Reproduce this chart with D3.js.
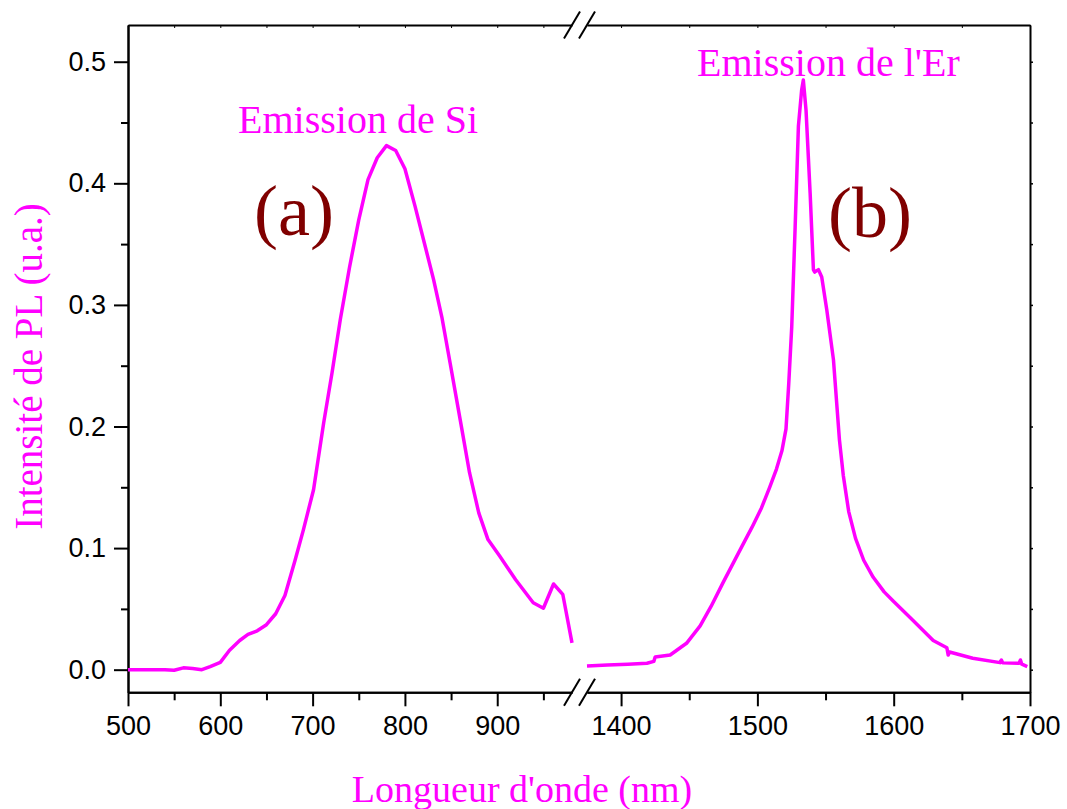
<!DOCTYPE html>
<html>
<head>
<meta charset="utf-8">
<script src="https://cdn.jsdelivr.net/npm/d3@7"></script>
<style>
  html, body { margin: 0; padding: 0; background: #fff; }
  svg { display: block; }
</style>
</head>
<body>
<svg id="chart" width="1067" height="809"></svg>
<script>
// ---- Data ----
const siWavelength = [500, 520, 540, 550, 560, 570, 580, 589, 600, 610, 621, 630, 640, 650, 660, 670, 681, 690, 701, 712, 721, 730, 740, 750, 760, 770, 780, 790, 800, 811, 822, 831, 840, 849, 860, 870, 880, 890, 903, 920, 939, 950, 961, 971, 981];
const siIntensity  = [0.000, 0.000, 0.000, -0.0005, 0.0015, 0.001, 0.000, 0.0025, 0.006, 0.016, 0.024, 0.029, 0.032, 0.037, 0.046, 0.061, 0.090, 0.115, 0.148, 0.203, 0.244, 0.288, 0.331, 0.370, 0.403, 0.421, 0.431, 0.427, 0.412, 0.381, 0.348, 0.321, 0.290, 0.252, 0.205, 0.162, 0.129, 0.107, 0.093, 0.074, 0.055, 0.0505, 0.0705, 0.062, 0.022];

const erWavelength = [1375, 1390, 1405, 1419, 1424, 1425, 1436, 1448, 1458, 1466, 1475, 1488, 1496, 1503, 1509, 1514, 1518, 1521, 1523, 1525.2, 1527.7, 1530.1, 1532.5, 1533.7, 1535.7, 1538.7, 1541.1, 1542, 1544.8, 1547.2, 1550.9, 1555.8, 1560.2, 1563, 1567, 1572, 1578, 1585, 1593, 1600, 1612, 1629, 1639, 1640, 1641, 1658, 1678, 1679, 1680, 1692, 1693, 1694, 1698];
const erIntensity  = [0.003, 0.0038, 0.0045, 0.0053, 0.0068, 0.0105, 0.0121, 0.0217, 0.036, 0.052, 0.072, 0.100, 0.117, 0.133, 0.150, 0.165, 0.180, 0.198, 0.235, 0.282, 0.364, 0.447, 0.477, 0.485, 0.460, 0.392, 0.329, 0.327, 0.329, 0.323, 0.296, 0.255, 0.189, 0.160, 0.130, 0.108, 0.090, 0.076, 0.064, 0.056, 0.043, 0.024, 0.018, 0.012, 0.0145, 0.0094, 0.0058, 0.008, 0.0056, 0.0053, 0.008, 0.0045, 0.0025];

const leftTicks = [500, 600, 700, 800, 900];
const leftMinorTicks = [550, 650, 750, 850, 950];
const rightTicks = [1400, 1500, 1600, 1700];
const rightMinorTicks = [1450, 1550, 1650];
const yTicks = [0.0, 0.1, 0.2, 0.3, 0.4, 0.5];
const yMinorTicks = [0.05, 0.15, 0.25, 0.35, 0.45];
const leftDomain = [500, 981];
const rightDomain = [1375, 1700];
const yDomain = [-0.0186, 0.5302];

const xTitle = "Longueur d'onde (nm)";
const yTitle = "Intensité de PL (u.a.)";
const labelSi = "Emission de Si";
const labelEr = "Emission de l'Er";
const panelA = "(a)";
const panelB = "(b)";

// ---- Layout ----
const plotLeft = 128, plotRight = 1030, plotTop = 25, plotBottom = 692.3;
const breakLeftEnd = 572, breakRightStart = 587;
const MAGENTA = "#ff00ff";
const DARKRED = "#800000";
const SANS = "'Liberation Sans', Arial, Helvetica, sans-serif";
const SERIF = "'Liberation Serif', 'Times New Roman', Times, serif";
const TICK_FONT = 27;

const svg = d3.select("#chart");

const xL = d3.scaleLinear().domain(leftDomain).range([plotLeft, breakLeftEnd]);
const xR = d3.scaleLinear().domain(rightDomain).range([breakRightStart, plotRight]);
const y = d3.scaleLinear().domain(yDomain).range([plotBottom, plotTop]);

function styleAxis(g) {
  g.selectAll("path.domain").attr("stroke", "#000").attr("stroke-width", 2);
  g.selectAll(".tick line").attr("stroke", "#000").attr("stroke-width", 2);
  g.selectAll(".tick text").attr("fill", "#000").style("font-family", SANS).style("font-size", TICK_FONT + "px");
}

// Bottom axes (major with labels, minor without) and top axes
[[xL, leftTicks, leftMinorTicks], [xR, rightTicks, rightMinorTicks]].forEach(([sc, major, minor]) => {
  const gMinor = svg.append("g").attr("transform", `translate(0,${plotBottom})`)
    .call(d3.axisBottom(sc).tickValues(minor).tickSize(8).tickSizeOuter(0).tickFormat(""));
  styleAxis(gMinor);
  const gMajor = svg.append("g").attr("transform", `translate(0,${plotBottom})`)
    .call(d3.axisBottom(sc).tickValues(major).tickSize(14).tickSizeOuter(0).tickFormat(d3.format("d")));
  styleAxis(gMajor);
  gMajor.selectAll(".tick text").attr("dy", null).attr("y", 43);

  const gTop = svg.append("g").attr("transform", `translate(0,${plotTop})`)
    .call(d3.axisTop(sc).tickValues(major.concat(minor)).tickSize(-3).tickSizeOuter(0).tickFormat(""));
  styleAxis(gTop);
  gTop.selectAll(".tick line").attr("stroke-width", 1);
});

// Left axis
const gYMinor = svg.append("g").attr("transform", `translate(${plotLeft},0)`)
  .call(d3.axisLeft(y).tickValues(yMinorTicks).tickSize(7).tickSizeOuter(0).tickFormat(""));
styleAxis(gYMinor);
const gY = svg.append("g").attr("transform", `translate(${plotLeft},0)`)
  .call(d3.axisLeft(y).tickValues(yTicks).tickSize(14).tickSizeOuter(0).tickPadding(8).tickFormat(d3.format(".1f")));
styleAxis(gY);

// Right axis
const gYR = svg.append("g").attr("transform", `translate(${plotRight},0)`)
  .call(d3.axisRight(y).tickValues(yTicks.concat(yMinorTicks)).tickSize(3).tickSizeOuter(0).tickFormat(""));
styleAxis(gYR);
gYR.selectAll(".tick line").attr("stroke-width", 1.5);

// Break marks (slashes) on top and bottom axes
const slashW = 16, slashH = 27;
[plotTop, plotBottom].forEach(yy => {
  [breakLeftEnd, breakRightStart].forEach(xx => {
    svg.append("line")
      .attr("x1", xx - slashW / 2).attr("y1", yy + slashH / 2)
      .attr("x2", xx + slashW / 2).attr("y2", yy - slashH / 2)
      .attr("stroke", "#000").attr("stroke-width", 2);
  });
});

// Curves
const lineSi = d3.line().x((d, i) => xL(siWavelength[i])).y((d, i) => y(siIntensity[i]));
const lineEr = d3.line().x((d, i) => xR(erWavelength[i])).y((d, i) => y(erIntensity[i]));
svg.append("path").attr("d", lineSi(siWavelength)).attr("fill", "none")
  .attr("stroke", MAGENTA).attr("stroke-width", 3.5).attr("stroke-linejoin", "round");
svg.append("path").attr("d", lineEr(erWavelength)).attr("fill", "none")
  .attr("stroke", MAGENTA).attr("stroke-width", 3.5).attr("stroke-linejoin", "round");

// Annotations
svg.append("text").attr("x", 238).attr("y", 133).text(labelSi)
  .style("font-family", SERIF).style("font-size", "40px").attr("fill", MAGENTA);
svg.append("text").attr("x", 697).attr("y", 76).text(labelEr)
  .style("font-family", SERIF).style("font-size", "40px").attr("fill", MAGENTA);
svg.append("text").attr("x", 254).attr("y", 235).text(panelA)
  .style("font-family", SERIF).style("font-size", "72px").attr("fill", DARKRED);
svg.append("text").attr("x", 828).attr("y", 237).text(panelB)
  .style("font-family", SERIF).style("font-size", "72px").attr("fill", DARKRED);

// Axis titles
svg.append("text").attr("x", 522).attr("y", 802).attr("text-anchor", "middle").text(xTitle)
  .style("font-family", SERIF).style("font-size", "38px").attr("fill", MAGENTA);
svg.append("text").attr("transform", "translate(42,366.5) rotate(-90)").attr("text-anchor", "middle").text(yTitle)
  .style("font-family", SERIF).style("font-size", "39px").attr("fill", MAGENTA);
</script>
</body>
</html>
